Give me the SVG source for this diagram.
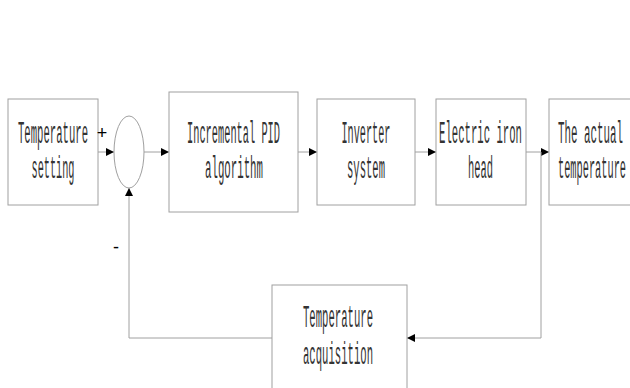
<svg xmlns="http://www.w3.org/2000/svg" width="630" height="388" viewBox="0 0 630 388">
<style>
.box{fill:#fff;stroke:#a0a0a0;stroke-width:1}
.ln{fill:none;stroke:#a0a0a0;stroke-width:1}
.t{font-family:"Liberation Mono",monospace;font-size:31px;fill:#333;text-anchor:middle}
.s{font-family:"Liberation Sans",sans-serif;font-size:18px;fill:#000;text-anchor:middle}
</style>
<defs>
<marker id="ar" viewBox="0 0 10 10" refX="10" refY="5" markerWidth="8" markerHeight="10" markerUnits="userSpaceOnUse" orient="auto">
<path d="M0,0 L10,5 L0,10 Z" fill="#000"/>
</marker>
</defs>
<rect width="630" height="388" fill="#fff"/>
<g id="connectors">
<line class="ln" x1="98" y1="152" x2="114" y2="152" marker-end="url(#ar)"/>
<line class="ln" x1="144" y1="152" x2="169" y2="152" marker-end="url(#ar)"/>
<line class="ln" x1="298" y1="152" x2="317" y2="152" marker-end="url(#ar)"/>
<line class="ln" x1="415" y1="152" x2="436" y2="152" marker-end="url(#ar)"/>
<line class="ln" x1="526" y1="152" x2="549" y2="152" marker-end="url(#ar)"/>
<polyline class="ln" points="541,152 541,338 407,338" marker-end="url(#ar)"/>
<polyline class="ln" points="272,338 129,338 129,188" marker-end="url(#ar)"/>
</g>
<g id="setting">
<rect class="box" x="8" y="99" width="90" height="106"/>
<text class="t" x="53" y="143" textLength="70" lengthAdjust="spacingAndGlyphs">Temperature</text>
<text class="t" x="53" y="178" textLength="43" lengthAdjust="spacingAndGlyphs">setting</text>
</g>
<g id="sum">
<ellipse cx="129" cy="152" rx="15" ry="36" fill="#fff" stroke="#a0a0a0"/>
<text class="s" x="102" y="139">+</text>
<text class="s" x="116" y="253">-</text>
</g>
<g id="pid">
<rect class="box" x="169" y="92" width="129" height="120"/>
<text class="t" x="233.5" y="143" textLength="93" lengthAdjust="spacingAndGlyphs">Incremental PID</text>
<text class="t" x="234" y="178" textLength="58" lengthAdjust="spacingAndGlyphs">algorithm</text>
</g>
<g id="inverter">
<rect class="box" x="317" y="99" width="98" height="106"/>
<text class="t" x="366" y="143" textLength="49" lengthAdjust="spacingAndGlyphs">Inverter</text>
<text class="t" x="366" y="178" textLength="38" lengthAdjust="spacingAndGlyphs">system</text>
</g>
<g id="iron">
<rect class="box" x="436" y="99" width="90" height="106"/>
<text class="t" x="480.5" y="143" textLength="83" lengthAdjust="spacingAndGlyphs">Electric iron</text>
<text class="t" x="480.5" y="178" textLength="25" lengthAdjust="spacingAndGlyphs">head</text>
</g>
<g id="actual">
<rect class="box" x="549" y="99" width="100" height="106"/>
<text class="t" x="590.5" y="143" textLength="65" lengthAdjust="spacingAndGlyphs">The actual</text>
<text class="t" x="592" y="178" textLength="68" lengthAdjust="spacingAndGlyphs">temperature</text>
</g>
<g id="acquisition">
<rect class="box" x="272" y="285" width="135" height="120"/>
<text class="t" x="338" y="327" textLength="70" lengthAdjust="spacingAndGlyphs">Temperature</text>
<text class="t" x="338" y="364" textLength="70" lengthAdjust="spacingAndGlyphs">acquisition</text>
</g>
</svg>
